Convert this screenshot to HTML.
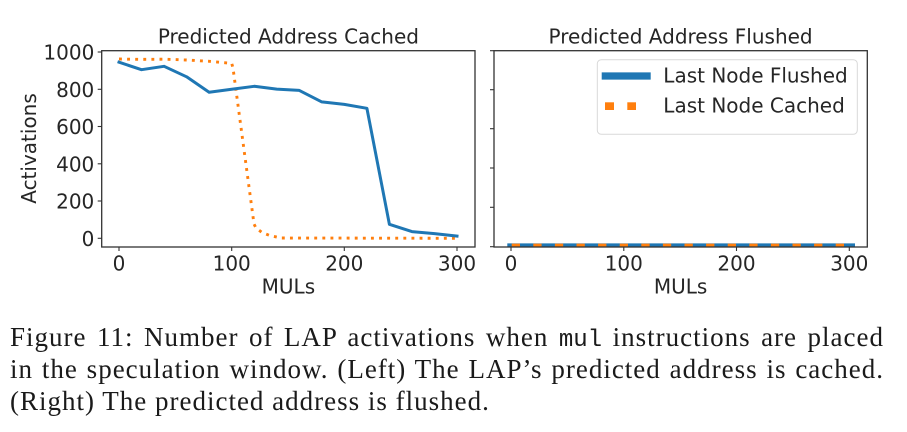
<!DOCTYPE html>
<html>
<head>
<meta charset="utf-8">
<style>
  html, body { margin: 0; padding: 0; background: #ffffff; }
  body { width: 907px; height: 432px; position: relative; overflow: hidden; }
  svg { position: absolute; left: 0; top: 0; }
  .cap {
    position: absolute; left: 10px; width: 874px;
    font-family: "Liberation Serif", "Times New Roman", serif;
    font-size: 27px; line-height: 32px; color: #1a1a1a;
    letter-spacing: 1px;
    white-space: nowrap;
  }
  .j { text-align: justify; text-align-last: justify; white-space: normal; }
  .mono { font-family: "Liberation Mono", "DejaVu Sans Mono", monospace; font-size: 24px; letter-spacing: 0; }
</style>
</head>
<body>
<svg width="907" height="432" viewBox="0 0 907 432" xmlns="http://www.w3.org/2000/svg">
  <g font-family="DejaVu Sans, Liberation Sans, sans-serif" font-size="20" fill="#262626">
    <!-- ===== LEFT PANEL ===== -->
    <text x="288.4" y="43.3" text-anchor="middle">Predicted Address Cached</text>

    <polyline fill="none" stroke="#ff7f0e" stroke-width="2.9" stroke-dasharray="2.9 5.2"
      points="119,59 141.5,59.4 164.1,59.2 186.6,60 209.1,61.3 231.7,63.3 233,68 254,224 256,228 262,232.5 270,235.6 281,238 457,238.3"/>
    <polyline fill="none" stroke="#1f77b4" stroke-width="3" stroke-linejoin="round" stroke-linecap="square"
      points="119,62.2 141.5,69.7 164.1,66.3 186.6,76.8 209.1,92.2 231.7,89.3 254.2,86.3 276.7,89.1 299.3,90.4 321.8,101.9 344.3,104.4 366.9,108.3 389.4,224.3 411.9,231.6 434.5,233.6 457,236.1"/>

    <rect x="101.7" y="50.7" width="373.3" height="196.3" fill="none" stroke="#333" stroke-width="1.3"/>

    <g stroke="#333" stroke-width="1.1">
      <line x1="97.7" y1="238.3" x2="101.7" y2="238.3"/>
      <line x1="97.7" y1="201.0" x2="101.7" y2="201.0"/>
      <line x1="97.7" y1="163.8" x2="101.7" y2="163.8"/>
      <line x1="97.7" y1="126.5" x2="101.7" y2="126.5"/>
      <line x1="97.7" y1="89.3" x2="101.7" y2="89.3"/>
      <line x1="97.7" y1="52.0" x2="101.7" y2="52.0"/>
      <line x1="119" y1="247" x2="119" y2="251"/>
      <line x1="231.7" y1="247" x2="231.7" y2="251"/>
      <line x1="344.3" y1="247" x2="344.3" y2="251"/>
      <line x1="457" y1="247" x2="457" y2="251"/>
    </g>
    <g text-anchor="end">
      <text x="94.3" y="245.8">0</text>
      <text x="94.3" y="208.5">200</text>
      <text x="94.3" y="171.3">400</text>
      <text x="94.3" y="134.0">600</text>
      <text x="94.3" y="96.8">800</text>
      <text x="94.3" y="59.5">1000</text>
    </g>
    <g text-anchor="middle">
      <text x="119" y="270.5">0</text>
      <text x="231.7" y="270.5">100</text>
      <text x="344.3" y="270.5">200</text>
      <text x="457" y="270.5">300</text>
      <text x="288.4" y="293.3">MULs</text>
    </g>
    <text transform="translate(36,148.5) rotate(-90)" text-anchor="middle">Activations</text>

    <!-- ===== RIGHT PANEL ===== -->
    <text x="680.6" y="43.3" text-anchor="middle">Predicted Address Flushed</text>

    <line x1="507.3" y1="245.2" x2="855" y2="245.2" stroke="#1f77b4" stroke-width="3.7"/>
    <line x1="511.7" y1="245.2" x2="855" y2="245.2" stroke="#ff7f0e" stroke-width="3.2" stroke-dasharray="8.3 13.3"/>

    <rect x="494" y="50.7" width="373.3" height="196.3" fill="none" stroke="#333" stroke-width="1.3"/>

    <g stroke="#333" stroke-width="1.1">
      <line x1="490" y1="50.7" x2="494" y2="50.7"/>
      <line x1="490" y1="89.7" x2="494" y2="89.7"/>
      <line x1="490" y1="128.7" x2="494" y2="128.7"/>
      <line x1="490" y1="168" x2="494" y2="168"/>
      <line x1="490" y1="207.3" x2="494" y2="207.3"/>
      <line x1="490" y1="246.7" x2="494" y2="246.7"/>
      <line x1="511" y1="247" x2="511" y2="251"/>
      <line x1="623.8" y1="247" x2="623.8" y2="251"/>
      <line x1="736.5" y1="247" x2="736.5" y2="251"/>
      <line x1="849.3" y1="247" x2="849.3" y2="251"/>
    </g>
    <g text-anchor="middle">
      <text x="511" y="270.5">0</text>
      <text x="623.8" y="270.5">100</text>
      <text x="736.5" y="270.5">200</text>
      <text x="849.3" y="270.5">300</text>
      <text x="680.6" y="293.3">MULs</text>
    </g>

    <rect x="597.3" y="59.7" width="260" height="74.6" rx="4" ry="4" fill="#ffffff" fill-opacity="0.8" stroke="#d9d9d9" stroke-width="1"/>
    <line x1="601.7" y1="76" x2="650.7" y2="76" stroke="#1f77b4" stroke-width="7.3"/>
    <rect x="605" y="102.3" width="9" height="7.7" fill="#ff7f0e"/>
    <rect x="627.3" y="102.3" width="8.7" height="7.7" fill="#ff7f0e"/>
    <text x="663.3" y="82.3">Last Node Flushed</text>
    <text x="663.3" y="112.3">Last Node Cached</text>
  </g>
</svg>

<div class="cap j" style="top:320.9px;">Figure 11: Number of LAP activations when <span class="mono">mul</span> instructions are placed</div>
<div class="cap j" style="top:352.6px;">in the speculation window. (Left) The LAP’s predicted address is cached.</div>
<div class="cap" style="top:384.9px;">(Right) The predicted address is flushed.</div>
</body>
</html>
